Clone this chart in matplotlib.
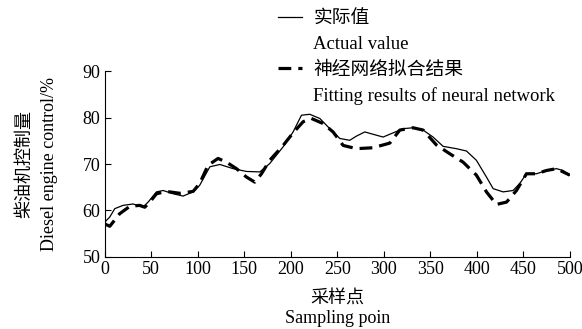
import matplotlib
matplotlib.use("Agg")
import matplotlib.pyplot as plt
from matplotlib.lines import Line2D

plt.rcParams['font.family'] = ['Liberation Serif', 'Noto Sans CJK SC']
plt.rcParams['font.size'] = 13

# 实际值
actual_x = [0, 5.4, 10.8, 19.7, 30.5, 41, 46.6, 55.6, 62.7, 73.5, 84.2, 95, 102, 113,
            123.7, 138, 152.3, 166.7, 177.4, 191.8, 202.5, 211.5, 220.4, 231.2, 242,
            252.7, 263.4, 270.6, 279.6, 288.5, 299.3, 310, 320.8, 331.5, 342.3, 353,
            363.8, 378, 388.9, 399.6, 410.4, 417.6, 428.3, 439, 446.2, 453.4, 464.2,
            474.9, 485.7, 492.8, 500]
actual_y = [57.5, 58.6, 60.4, 61.1, 61.4, 60.7, 61.8, 64.0, 64.3, 63.6, 63.1, 64.0, 65.4,
            69.4, 69.9, 69.0, 68.4, 68.3, 70.1, 73.7, 76.9, 80.5, 80.7, 79.8, 77.6, 75.5,
            75.1, 76.0, 76.9, 76.4, 75.8, 76.7, 77.6, 77.8, 77.3, 75.8, 73.8, 73.3, 72.8,
            70.8, 67.2, 64.7, 64.0, 64.3, 65.8, 67.9, 67.9, 68.6, 69.0, 68.6, 67.6]

# 神经网络拟合结果
fit_x = [0, 5.4, 16, 27, 37.6, 43, 48.4, 55.6, 66.3, 80.6, 95, 102, 111, 121.8, 130.8,
         141.6, 152.3, 161.3, 168.5, 177.4, 191.8, 202.5, 213.3, 222.2, 234.8, 245.5,
         256.3, 270.6, 288.5, 306.5, 317.2, 331.5, 342.3, 356.6, 371, 385.3, 399.6,
         410.4, 421.1, 432, 442.7, 453.4, 464.2, 474.9, 485.7, 500]
fit_y = [57.1, 56.6, 59.3, 60.9, 61.1, 60.7, 61.8, 63.6, 64.1, 63.7, 64.1, 65.8, 69.7,
         71.2, 70.4, 69.0, 67.2, 66.1, 67.9, 70.8, 74.0, 76.7, 79.1, 79.8, 78.7, 76.9,
         74.0, 73.3, 73.5, 74.5, 77.3, 77.8, 77.3, 74.1, 72.2, 70.4, 67.6, 64.0, 61.3,
         61.8, 64.3, 67.9, 67.9, 68.6, 69.0, 67.6]

xticks = [0, 50, 100, 150, 200, 250, 300, 350, 400, 450, 500]
yticks = [50, 60, 70, 80, 90]

fig = plt.figure(figsize=(5.82, 3.29), dpi=100)
ax = fig.add_axes([0.180, 0.219, 0.799, 0.565])

ax.plot(actual_x, actual_y, color='black', lw=0.9)
ax.plot(fit_x, fit_y, color='black', lw=2.3, dashes=(4, 2.2))

ax.set_xlim(0, 500)
ax.set_ylim(50, 90)
ax.set_xticks(xticks)
ax.set_yticks(yticks)
ax.tick_params(direction='in', length=4, width=0.8, labelsize=13, pad=3)
for s in ['top', 'right']:
    ax.spines[s].set_visible(False)
for s in ['left', 'bottom']:
    ax.spines[s].set_linewidth(0.8)

ax.set_xlabel('采样点\nSampling poin', fontsize=13, linespacing=1.15, labelpad=9)
ax.set_ylabel('柴油机控制量\nDiesel engine control/%', fontsize=13, linespacing=1.6, labelpad=18)

# 图例
blank = Line2D([], [], color='none')
handles = [Line2D([], [], color='black', lw=0.9), blank,
           Line2D([], [], color='black', lw=2.3, dashes=(4, 2.2)), blank]
labels = ['实际值', 'Actual value', '神经网络拟合结果', 'Fitting results of neural network']
fig.legend(handles, labels, loc='upper left', bbox_to_anchor=(0.448, 1.02),
           frameon=False, handlelength=1.3, handletextpad=0.6, labelspacing=0.45,
           fontsize=13.5)

fig.savefig('out.png', dpi=100)
